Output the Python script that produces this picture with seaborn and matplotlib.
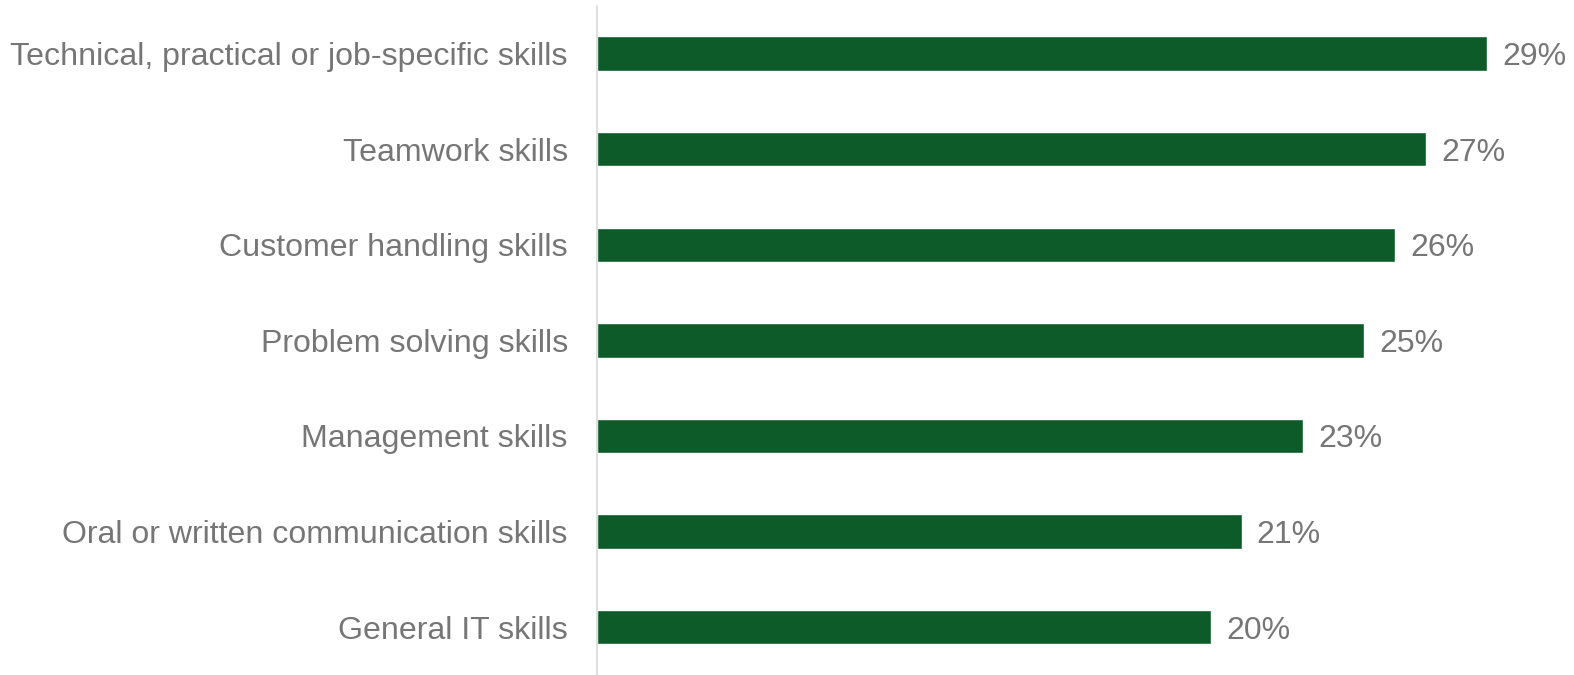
import matplotlib
matplotlib.use("Agg")
import matplotlib.pyplot as plt
import seaborn as sns
import pandas as pd

skills = [
    "Technical, practical or job-specific skills",
    "Teamwork skills",
    "Customer handling skills",
    "Problem solving skills",
    "Management skills",
    "Oral or written communication skills",
    "General IT skills",
]
shares = [29, 27, 26, 25, 23, 21, 20]

bar_colour = "#0E5B2A"
text_grey = "#767676"

sns.set_theme(style="white")
plt.rcParams["font.family"] = ["Liberation Sans", "DejaVu Sans"]

df = pd.DataFrame({"Skill": skills, "Share": shares})

fig = plt.figure(figsize=(15.74, 6.75), dpi=100)
ax = fig.add_axes([0.3793, 0.0, 0.6045, 0.9916])

sns.barplot(data=df, y="Skill", x="Share", color=bar_colour, width=0.36,
            saturation=1, orient="h", ax=ax)

ax.set_xlim(0, 31)
ax.set_ylim(6.5, -0.5)
ax.set_xlabel("")
ax.set_ylabel("")
ax.set_xticks([])
ax.tick_params(axis="y", length=0, pad=21, labelsize=23.1, labelcolor=text_grey)

for side in ["top", "right", "bottom"]:
    ax.spines[side].set_visible(False)
ax.spines["left"].set_color("#D9D9D9")
ax.spines["left"].set_linewidth(1.2)

# percentage labels at the end of each bar
for i, v in enumerate(shares):
    ax.annotate(f"{v}%", xy=(v, i), xytext=(11, 0), textcoords="offset points",
                va="center_baseline", ha="left", fontsize=23, color=text_grey)

fig.savefig("out.png", dpi=100)
